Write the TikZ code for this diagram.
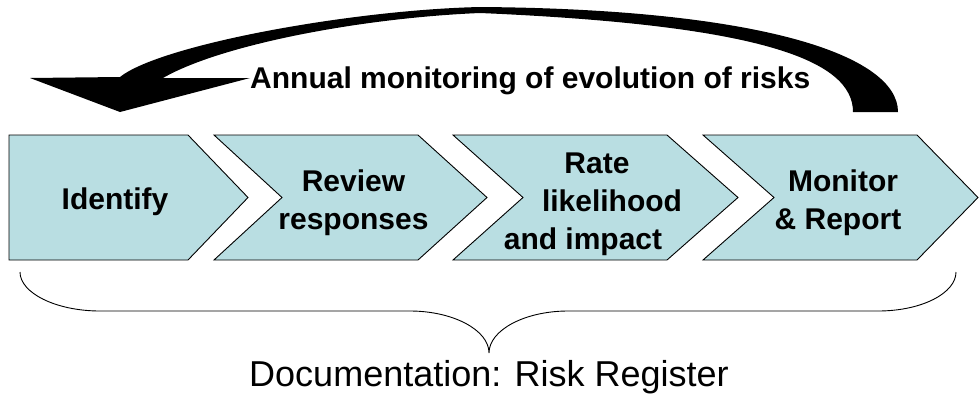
\documentclass[tikz,border=0pt]{standalone}
\usepackage{fontspec}
\setmainfont{Liberation Sans}
\definecolor{boxfill}{RGB}{185,222,226}
\begin{document}
\begin{tikzpicture}[x=1pt,y=-1pt]
\tikzset{
  stage/.style={draw=black, line width=0.9pt, fill=boxfill, line join=miter},
  stagetext/.style={font=\fontsize{30}{38}\selectfont\bfseries, align=center, inner sep=0pt},
  brace/.style={draw=black, line width=0.9pt}
}
\useasboundingbox (0,0) rectangle (979,397);
% stages
\draw[stage] (9,135) -- (188,135) -- (248,197.5) -- (188,260) -- (9,260) -- cycle;
\draw[stage] (214,135) -- (418,135) -- (487,197.5) -- (418,260) -- (214,260) -- (282,197.5) -- cycle;
\draw[stage] (453,135) -- (667,135) -- (738,197.5) -- (667,260) -- (453,260) -- (523,197.5) -- cycle;
\draw[stage] (703,135) -- (917,135) -- (978,197.5) -- (917,260) -- (703,260) -- (774,197.5) -- cycle;
\node[stagetext] (t1) at (115,202) {Identify};
\node[stagetext] (t2) at (353.5,203) {Review\\responses};
\node[stagetext] (t3) at (612,204) {\hspace*{-30pt}Rate\\likelihood\\\hspace*{-58pt}and impact};
\node[stagetext] (t4) at (838,203) {\hspace*{10pt}Monitor\\\& Report};
% curved arrow
\fill[black] (898,112) .. controls (898,55) and (760,9) .. (480,7)
  .. controls (350,10) and (160,45) .. (120,77)
  -- (30,78) -- (120,112) -- (250,78) -- (163,78)
  .. controls (220,45) and (360,18) .. (480,13)
  .. controls (760,25) and (853,60) .. (853,112) -- cycle;
\node[anchor=base west, inner sep=0pt, font=\fontsize{30}{36}\selectfont\bfseries] (title) at (250,88) {Annual monitoring of evolution of risks};
% brace
\draw[brace] (20,272) .. controls (20,293) and (56,311) .. (100,311)
  -- (410,311) .. controls (453,311) and (489,330) .. (489,353)
  .. controls (489,330) and (525,311) .. (568,311)
  -- (878,311) .. controls (922,311) and (956,293) .. (956,272);
\node[anchor=base, inner sep=0pt, font=\fontsize{36}{40}\selectfont] (doc) at (489,386) {Documentation: Risk Register};
\end{tikzpicture}
\end{document}
